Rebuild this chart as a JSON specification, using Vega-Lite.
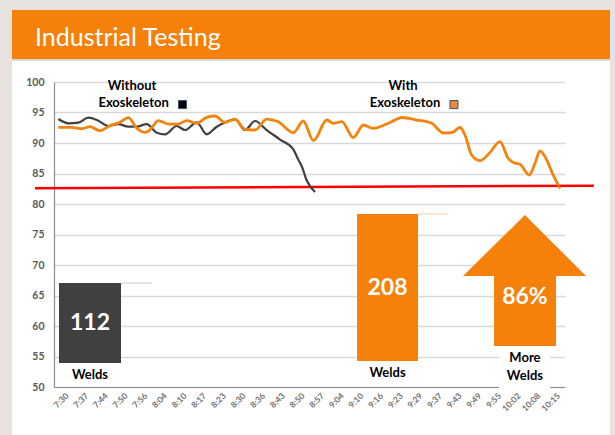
{
  "$schema": "https://vega.github.io/schema/vega-lite/v6.json",
  "width": 511,
  "height": 305,
  "autosize": {"type": "none"},
  "padding": {"left": 54, "top": 82, "right": 50, "bottom": 48},
  "background": "#ffffff",
  "config": {"view": {"stroke": null}, "font": "Lato"},
  "datasets": {
    "strips": [
      {"x": -3, "x2": -2.137, "y": 42, "y2": 114},
      {"x": -3, "x2": 29, "y": 111.8, "y2": 114},
      {"x": 28.29, "x2": 29, "y": 42, "y2": 114}
    ],
    "header": [{"x": -2.137, "x2": 28.29, "y": 103.77, "y2": 111.8}],
    "shadow": [{"x": -2.137, "x2": 28.29, "y": 103.6}],
    "title": [{"x": -0.967, "y": 105.9, "label": "Industrial Testing"}],
    "target": [{"x": -0.967, "y": 82.6}, {"x": 27.47, "y": 83.0}],
    "without": [
      {"x": 0.22, "y": 93.93}, {"x": 0.73, "y": 93.23}, {"x": 1.24, "y": 93.33}, {"x": 1.75, "y": 94.15},
      {"x": 2.25, "y": 93.66}, {"x": 2.76, "y": 92.79}, {"x": 3.27, "y": 93.11}, {"x": 3.78, "y": 92.67},
      {"x": 4.21, "y": 92.67}, {"x": 4.72, "y": 93.11}, {"x": 5.23, "y": 91.69}, {"x": 5.65, "y": 91.43},
      {"x": 6.24, "y": 92.79}, {"x": 6.67, "y": 92.13}, {"x": 7.26, "y": 93.39}, {"x": 7.77, "y": 91.43},
      {"x": 8.28, "y": 92.67}, {"x": 8.79, "y": 93.49}, {"x": 9.21, "y": 93.89}, {"x": 9.72, "y": 92.13},
      {"x": 10.23, "y": 93.61}, {"x": 10.82, "y": 92.13}, {"x": 11.5, "y": 90.57}, {"x": 12.16, "y": 89.02},
      {"x": 12.44, "y": 87.21}, {"x": 12.62, "y": 86.07}, {"x": 12.85, "y": 83.93}, {"x": 13.28, "y": 81.97}
    ],
    "with": [
      {"x": 0.22, "y": 92.57}, {"x": 0.9, "y": 92.57}, {"x": 1.41, "y": 92.34}, {"x": 1.83, "y": 92.67},
      {"x": 2.34, "y": 92.02}, {"x": 2.85, "y": 92.84}, {"x": 3.36, "y": 93.39}, {"x": 3.78, "y": 94.15},
      {"x": 4.21, "y": 92.41}, {"x": 4.63, "y": 91.75}, {"x": 4.88, "y": 92.13}, {"x": 5.31, "y": 93.66},
      {"x": 5.82, "y": 93.11}, {"x": 6.32, "y": 93.11}, {"x": 6.75, "y": 93.66}, {"x": 7.26, "y": 93.23},
      {"x": 7.77, "y": 94.21}, {"x": 8.19, "y": 94.43}, {"x": 8.7, "y": 93.39}, {"x": 9.21, "y": 93.89},
      {"x": 9.72, "y": 92.25}, {"x": 10.23, "y": 92.13}, {"x": 10.82, "y": 93.93}, {"x": 11.41, "y": 93.49},
      {"x": 12.18, "y": 91.69}, {"x": 12.68, "y": 93.61}, {"x": 13.2, "y": 90.38}, {"x": 13.88, "y": 93.77},
      {"x": 14.21, "y": 93.23}, {"x": 14.64, "y": 93.49}, {"x": 15.23, "y": 90.9}, {"x": 15.74, "y": 92.95},
      {"x": 16.25, "y": 92.41}, {"x": 16.93, "y": 93.11}, {"x": 17.73, "y": 94.18}, {"x": 18.45, "y": 93.77},
      {"x": 19.22, "y": 93.23}, {"x": 19.81, "y": 91.64}, {"x": 20.24, "y": 91.69}, {"x": 20.66, "y": 92.54},
      {"x": 20.91, "y": 91.31}, {"x": 21.25, "y": 88.03}, {"x": 21.68, "y": 87.1}, {"x": 22.18, "y": 88.44},
      {"x": 22.69, "y": 90.21}, {"x": 23.11, "y": 87.49}, {"x": 23.4, "y": 86.77}, {"x": 23.71, "y": 86.51},
      {"x": 24.18, "y": 84.75}, {"x": 24.47, "y": 86.67}, {"x": 24.73, "y": 88.69}, {"x": 25.07, "y": 87.21},
      {"x": 25.4, "y": 84.75}, {"x": 25.75, "y": 82.57}
    ],
    "grayEdge": [{"x": 3.41, "x2": 4.99, "y": 67.05}],
    "orangeEdge": [{"x": 18.52, "x2": 20.05, "y": 78.36}],
    "barWithout": [{"x": 0.254, "x2": 3.41, "y": 53.93, "y2": 67.05}],
    "barWith": [{"x": 15.42, "x2": 18.52, "y": 54.26, "y2": 78.36}],
    "labelBox": [{"x": 22.64, "x2": 25.24, "y": 49.2, "y2": 56.6}],
    "shaft": [{"x": 22.39, "x2": 25.54, "y": 56.72, "y2": 68.4}],
    "head": [{"x": 20.81, "y": 68.2, "y2": 68.2}, {"x": 23.96, "y": 78.2, "y2": 68.2}, {"x": 27.07, "y": 68.2, "y2": 68.2}],
    "bigNumbers": [
      {"x": 1.83, "y": 60.5, "label": "112"},
      {"x": 16.97, "y": 66.2, "label": "208"},
      {"x": 23.96, "y": 64.75, "label": "86%"}
    ],
    "notes": [
      {"x": 3.97, "y": 99.4, "label": "Without"},
      {"x": 4.05, "y": 96.5, "label": "Exoskeleton"},
      {"x": 17.76, "y": 99.4, "label": "With"},
      {"x": 17.86, "y": 96.5, "label": "Exoskeleton"},
      {"x": 1.83, "y": 51.97, "label": "Welds"},
      {"x": 16.97, "y": 52.25, "label": "Welds"},
      {"x": 23.96, "y": 54.75, "label": "More"},
      {"x": 23.96, "y": 51.8, "label": "Welds"}
    ],
    "keyWithout": [{"x": 6.54, "y": 96.3}],
    "keyWith": [{"x": 20.35, "y": 96.3}]
  },
  "encoding": {
    "x": {
      "field": "x", "type": "quantitative",
      "scale": {"domain": [0, 26], "nice": false, "zero": false},
      "axis": {
        "title": null, "grid": false, "ticks": false,
        "values": [0.5, 1.5, 2.5, 3.5, 4.5, 5.5, 6.5, 7.5, 8.5, 9.5, 10.5, 11.5, 12.5, 13.5, 14.5, 15.5, 16.5, 17.5, 18.5, 19.5, 20.5, 21.5, 22.5, 23.5, 24.5, 25.5],
        "labelExpr": "['7:30','7:37','7:44','7:50','7:56','8:04','8:10','8:17','8:23','8:30','8:36','8:43','8:50','8:57','9:04','9:10','9:16','9:23','9:29','9:37','9:43','9:49','9:55','10:02','10:08','10:15'][floor(datum.value)]",
        "labelAngle": -45, "labelFontSize": 8.5, "labelColor": "#707070", "labelFontWeight": "bold",
        "labelPadding": 4, "labelOverlap": false, "labelBound": false, "labelFlush": false,
        "domainColor": "#8c8c8c", "domainWidth": 1.2
      }
    },
    "y": {
      "field": "y", "type": "quantitative",
      "scale": {"domain": [50, 100], "nice": false, "zero": false},
      "axis": {
        "title": null, "values": [50, 55, 60, 65, 70, 75, 80, 85, 90, 95, 100],
        "grid": true, "gridColor": "#d9d9d9", "gridWidth": 1.3, "ticks": false,
        "labelFontSize": 10.5, "labelFontWeight": "bold", "labelColor": "#595959", "labelPadding": 10,
        "domainColor": "#8c8c8c", "domainWidth": 1.2
      }
    }
  },
  "layer": [
    {"data": {"name": "strips"}, "mark": {"type": "rect", "color": "#e5e2e0"},
     "encoding": {"x2": {"field": "x2"}, "y2": {"field": "y2"}}},
    {"data": {"name": "shadow"}, "mark": {"type": "rule", "color": "#bdbdbd", "strokeWidth": 2, "opacity": 0.6},
     "encoding": {"x2": {"field": "x2"}}},
    {"data": {"name": "header"}, "mark": {"type": "rect", "color": "#F5800A"},
     "encoding": {"x2": {"field": "x2"}, "y2": {"field": "y2"}}},
    {"data": {"name": "title"}, "mark": {"type": "text", "align": "left", "baseline": "alphabetic", "fontSize": 25, "color": "#ffffff", "font": "Lato"},
     "encoding": {"text": {"field": "label"}}},
    {"data": {"name": "target"}, "mark": {"type": "line", "color": "#ff0000", "strokeWidth": 2.5}},
    {"data": {"name": "without"}, "mark": {"type": "line", "color": "#404040", "strokeWidth": 2.2, "interpolate": "monotone"}},
    {"data": {"name": "with"}, "mark": {"type": "line", "color": "#F5820D", "strokeWidth": 2.8, "interpolate": "monotone"}},
    {"data": {"name": "grayEdge"}, "mark": {"type": "rule", "color": "#e4e4e4", "strokeWidth": 2},
     "encoding": {"x2": {"field": "x2"}}},
    {"data": {"name": "orangeEdge"}, "mark": {"type": "rule", "color": "#fde6d2", "strokeWidth": 2},
     "encoding": {"x2": {"field": "x2"}}},
    {"data": {"name": "barWithout"}, "mark": {"type": "rect", "color": "#404040"},
     "encoding": {"x2": {"field": "x2"}, "y2": {"field": "y2"}}},
    {"data": {"name": "barWith"}, "mark": {"type": "rect", "color": "#F5800A"},
     "encoding": {"x2": {"field": "x2"}, "y2": {"field": "y2"}}},
    {"data": {"name": "labelBox"}, "mark": {"type": "rect", "color": "#ffffff"},
     "encoding": {"x2": {"field": "x2"}, "y2": {"field": "y2"}}},
    {"data": {"name": "shaft"}, "mark": {"type": "rect", "color": "#F5800A"},
     "encoding": {"x2": {"field": "x2"}, "y2": {"field": "y2"}}},
    {"data": {"name": "head"}, "mark": {"type": "area", "color": "#F5800A", "interpolate": "linear", "opacity": 1},
     "encoding": {"y2": {"field": "y2"}}},
    {"data": {"name": "bigNumbers"}, "mark": {"type": "text", "align": "center", "baseline": "middle", "fontSize": 23, "fontWeight": "bold", "color": "#ffffff"},
     "encoding": {"text": {"field": "label"}}},
    {"data": {"name": "notes"}, "mark": {"type": "text", "align": "center", "baseline": "middle", "fontSize": 13, "fontWeight": "bold", "color": "#000000"},
     "encoding": {"text": {"field": "label"}}},
    {"data": {"name": "keyWithout"}, "mark": {"type": "point", "shape": "square", "filled": true, "size": 64, "color": "#000000", "stroke": "#3b4d72", "strokeWidth": 1, "opacity": 1}},
    {"data": {"name": "keyWith"}, "mark": {"type": "point", "shape": "square", "filled": true, "size": 64, "color": "#F08A3A", "stroke": "#3b4d72", "strokeWidth": 1, "opacity": 1}}
  ]
}
